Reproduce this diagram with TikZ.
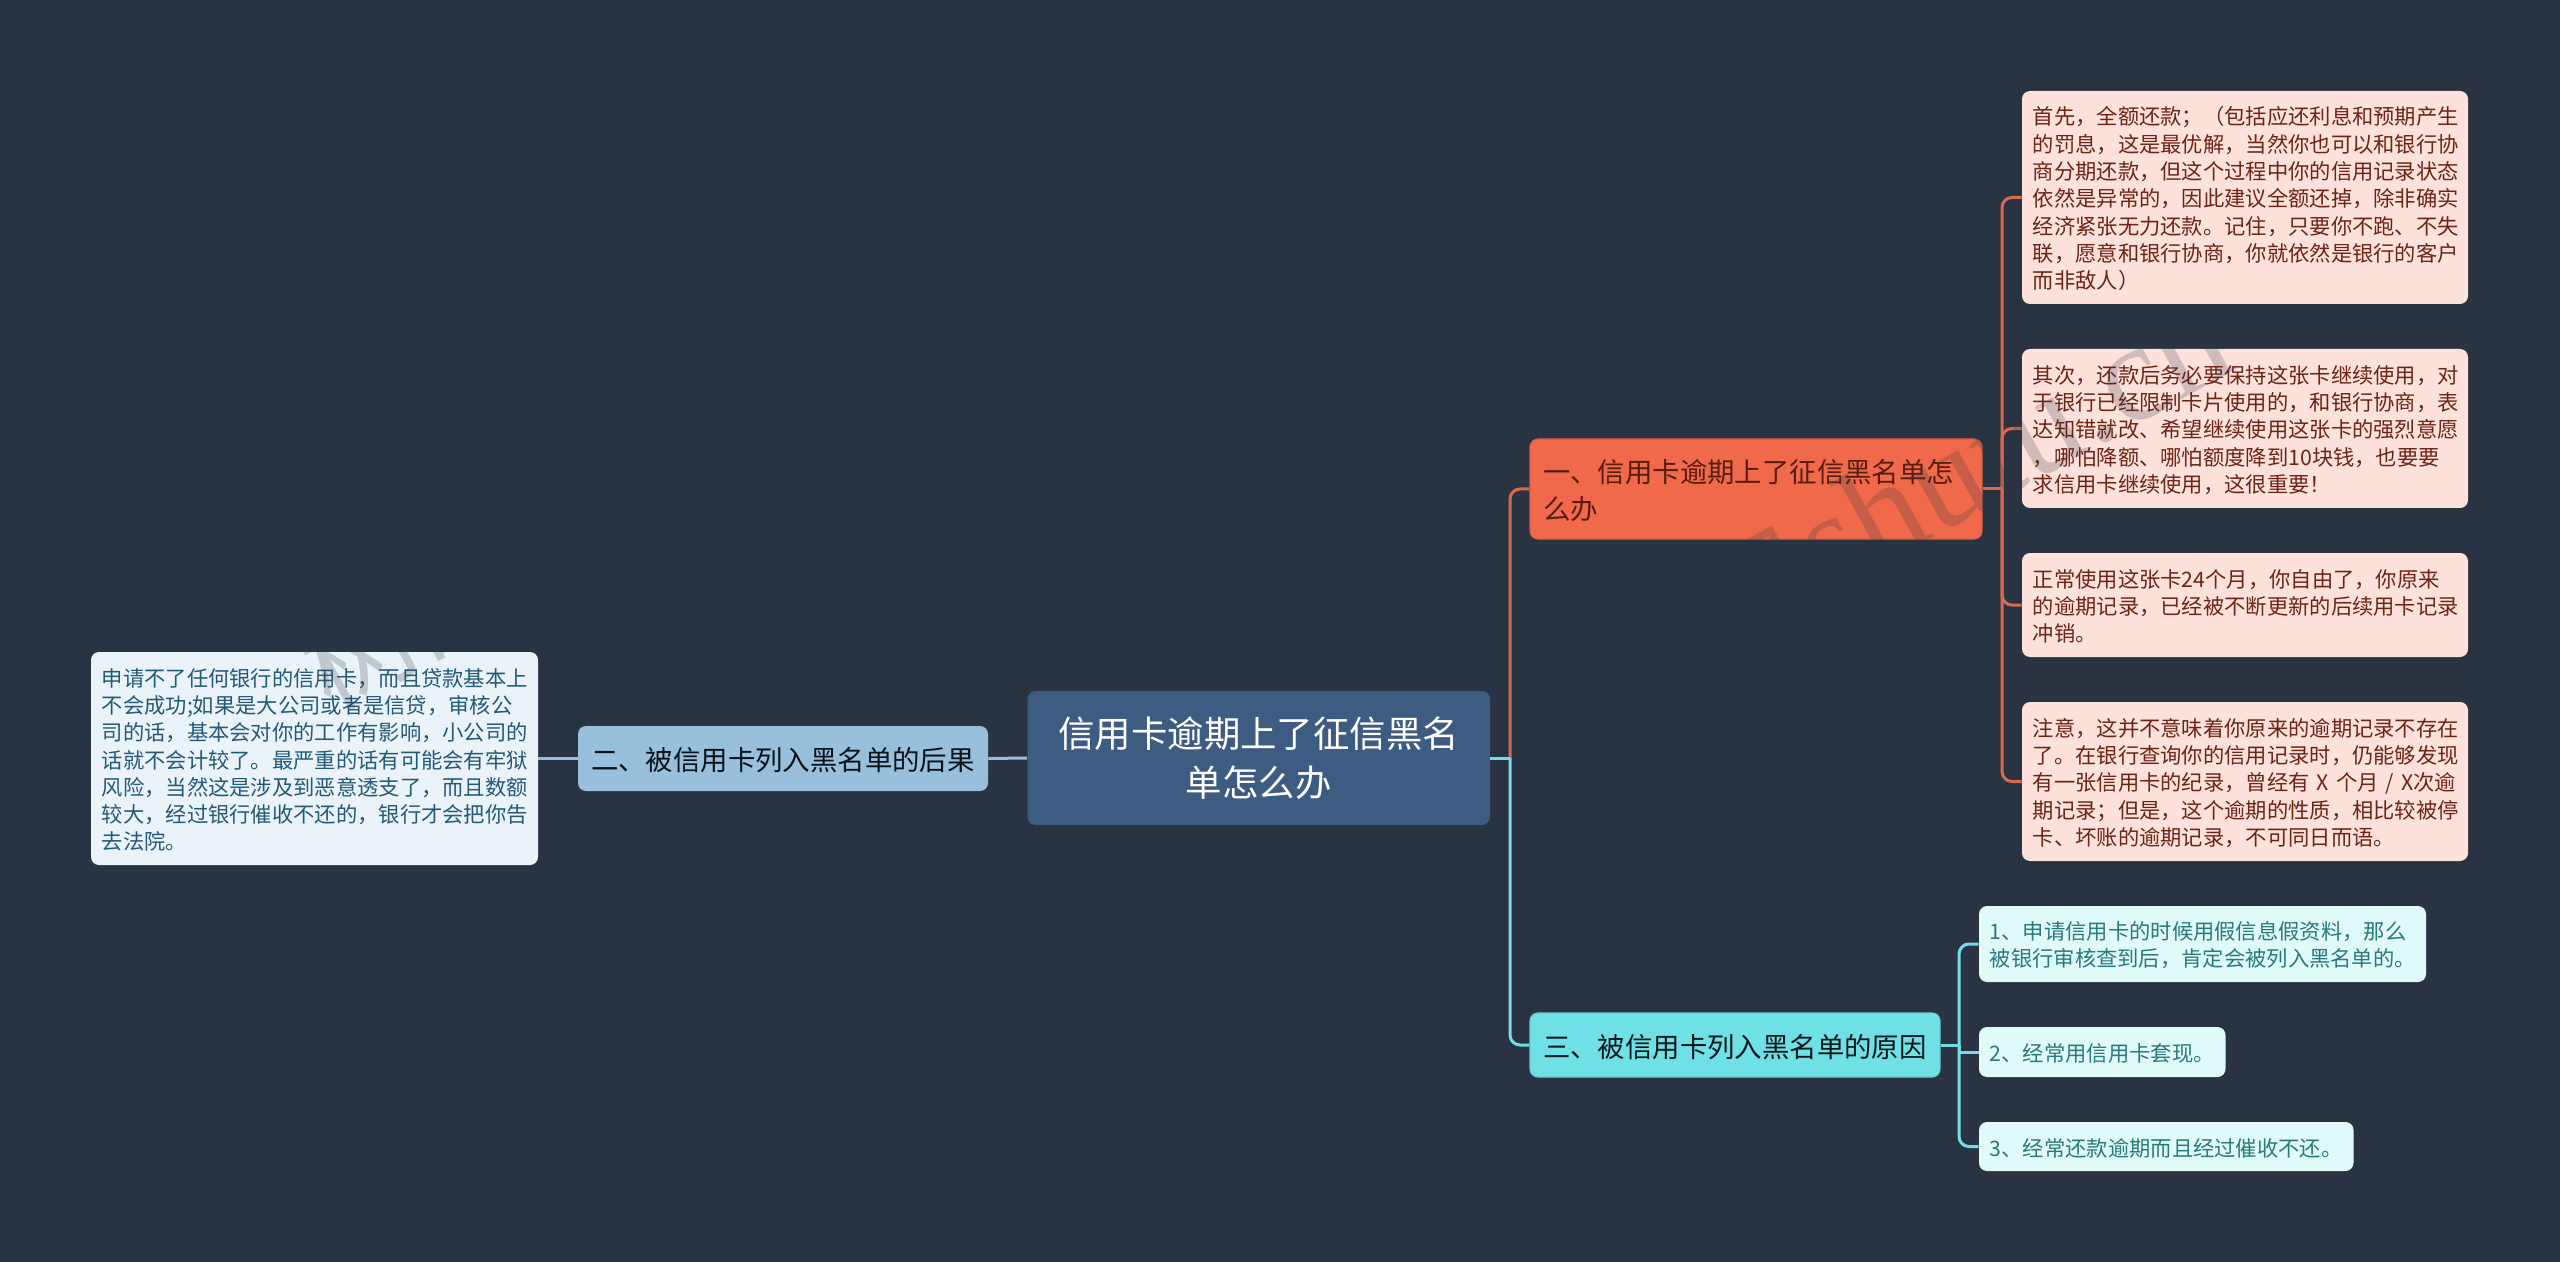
\documentclass[tikz,border=0pt]{standalone}
\usepackage{fontspec}
\setmainfont{Noto Sans CJK SC}
\newfontfamily\wmfont{Liberation Serif}
\definecolor{bgc}{HTML}{2A3342}
\definecolor{cenc}{HTML}{3E5C82}
\definecolor{orc}{HTML}{F0694B}
\definecolor{orl}{HTML}{D96A52}
\definecolor{ord}{HTML}{FDE2DC}
\definecolor{ort}{HTML}{6E2413}
\definecolor{cyc}{HTML}{6FE0E6}
\definecolor{cyl}{HTML}{72DDE6}
\definecolor{cyd}{HTML}{E0F9F9}
\definecolor{cyt}{HTML}{2A7A7C}
\definecolor{blc}{HTML}{98BFDB}
\definecolor{bld}{HTML}{EAF3F9}
\definecolor{blt}{HTML}{235A78}
\definecolor{wmk}{HTML}{2E3440}
\tikzset{
  x=0.5pt,y=-0.5pt,
  nbox/.style={rectangle,rounded corners=4pt,align=left,inner ysep=0pt},
  detail/.style={nbox,inner xsep=5.4pt,font=\fontsize{10.65pt}{13.65pt}\selectfont,execute at begin node=\rule{0pt}{10.4pt}},
  mainb/.style={nbox,inner xsep=6.5pt,font=\fontsize{13.7pt}{18.3pt}\selectfont,execute at begin node=\rule{0pt}{13.2pt}},
  conn/.style={line width=1.5pt,rounded corners=5pt},
  bar/.style={line width=1.5pt},
  watermark/.style={rotate=29,text=wmk,opacity=0.22,font=\fontsize{55pt}{55pt}\selectfont}
}
\begin{document}
\begin{tikzpicture}
\fill[bgc] (0,0) rectangle (2560,1262);
\useasboundingbox (0,0) rectangle (2560,1262);
% nodes
\node[nbox,fill=cenc,text=white,align=center,minimum width=231.25pt,minimum height=67pt,text width=222pt,font=\fontsize{18.2pt}{24.5pt}\selectfont] (cen) at (1258.75,758) {信用卡逾期上了征信黑名\\单怎么办};
\node[mainb,fill=orc,draw=orc!90!black,line width=.6pt,text=ort!80!black,minimum width=226pt,minimum height=50pt,text width=213pt] (o) at (1756,489) {一、信用卡逾期上了征信黑名单怎\\么办};
\node[mainb,fill=cyc,draw=cyc!92!black,line width=.6pt,text=black!80!cyt,minimum width=205pt,minimum height=32pt,text width=192pt] (t) at (1735,1045) {三、被信用卡列入黑名单的原因};
\node[mainb,fill=blc,text=black!80!blt,minimum width=205pt,minimum height=32.5pt,text width=192pt] (b) at (783,758.5) {二、被信用卡列入黑名单的后果};
\node[detail,fill=ord,text=ort,minimum width=223pt,minimum height=106.5pt,text width=212.2pt] (d1) at (2245,197.5) {首先，全额还款；（包括应还利息和预期产生\\的罚息，这是最优解，当然你也可以和银行协\\商分期还款，但这个过程中你的信用记录状态\\依然是异常的，因此建议全额还掉，除非确实\\经济紧张无力还款。记住，只要你不跑、不失\\联，愿意和银行协商，你就依然是银行的客户\\而非敌人）};
\node[detail,fill=ord,text=ort,minimum width=223pt,minimum height=79.5pt,text width=212.2pt] (d2) at (2245,428.5) {其次，还款后务必要保持这张卡继续使用，对\\于银行已经限制卡片使用的，和银行协商，表\\达知错就改、希望继续使用这张卡的强烈意愿\\，哪怕降额、哪怕额度降到10块钱，也要要\\求信用卡继续使用，这很重要！};
\node[detail,fill=ord,text=ort,minimum width=223pt,minimum height=52pt,text width=212.2pt] (d3) at (2245,605) {正常使用这张卡24个月，你自由了，你原来\\的逾期记录，已经被不断更新的后续用卡记录\\冲销。};
\node[detail,fill=ord,text=ort,minimum width=223pt,minimum height=79.5pt,text width=212.2pt] (d4) at (2245,781.5) {注意，这并不意味着你原来的逾期记录不存在\\了。在银行查询你的信用记录时，仍能够发现\\有一张信用卡的纪录，曾经有 X 个月 / X次逾\\期记录；但是，这个逾期的性质，相比较被停\\卡、坏账的逾期记录，不可同日而语。};
\node[detail,fill=cyd,text=cyt,minimum width=223.5pt,minimum height=38pt,text width=212.7pt] (t1) at (2202.5,944) {1、申请信用卡的时候用假信息假资料，那么\\被银行审核查到后，肯定会被列入黑名单的。};
\node[detail,fill=cyd,text=cyt,minimum width=123.25pt,minimum height=25pt,text width=112.4pt] (t2) at (2102.25,1052) {2、经常用信用卡套现。};
\node[detail,fill=cyd,text=cyt,minimum width=187.25pt,minimum height=24.5pt,text width=176.4pt] (t3) at (2166.25,1146.5) {3、经常还款逾期而且经过催收不还。};
\node[detail,fill=bld,text=blt,minimum width=223.5pt,minimum height=106.5pt,text width=212.7pt] (l) at (314.5,758.5) {申请不了任何银行的信用卡，而且贷款基本上\\不会成功;如果是大公司或者是信贷，审核公\\司的话，基本会对你的工作有影响，小公司的\\话就不会计较了。最严重的话有可能会有牢狱\\风险，当然这是涉及到恶意透支了，而且数额\\较大，经过银行催收不还的，银行才会把你告\\去法院。};
% bus coordinates
\coordinate (busC) at (1510,758);
\coordinate (busO) at (2002,489);
\coordinate (busT) at (1959,1045);
% connectors
\draw[conn,draw=orl] (busC) |- (o.west);
\draw[conn,draw=cyl] (busC) |- (t.west);
\draw[bar,draw=cyl] (cen.east) -- (busC);
\draw[bar,draw=blc] (cen.west) -- (b.east);
\draw[bar,draw=blc] (b.west) -- (l.east);
\draw[bar,draw=orl] (o.east) -- (busO);
\draw[conn,draw=orl] (busO) |- (d1.west);
\draw[conn,draw=orl] (busO) |- (d2.west);
\draw[conn,draw=orl] (busO) |- (d3.west);
\draw[conn,draw=orl] (busO) |- (d4.west);
\draw[bar,draw=cyl] (t.east) -- (busT);
\draw[conn,draw=cyl] (busT) |- (t1.west);
\draw[bar,draw=cyl] (busT) |- (t2.west);
\draw[conn,draw=cyl] (busT) |- (t3.west);
% watermarks
\node[watermark,anchor=base east] (wm1) at (946,371) {树图\hspace{3pt}{\wmfont\fontsize{70pt}{70pt}\selectfont shutu.cn}};
\node[watermark,anchor=base east] (wm2) at (2246,364) {树图\hspace{3pt}{\wmfont\fontsize{70pt}{70pt}\selectfont shutu.cn}};
\end{tikzpicture}
\end{document}
